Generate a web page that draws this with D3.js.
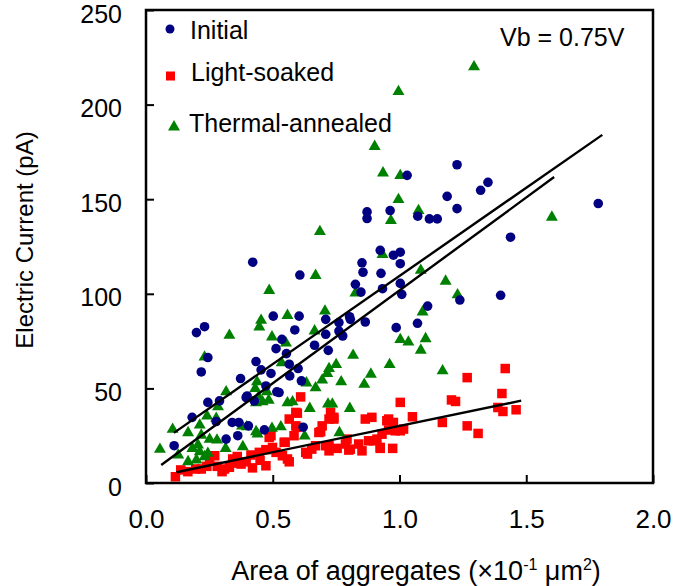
<!DOCTYPE html>
<html>
<head>
<meta charset="utf-8">
<script src="https://cdn.jsdelivr.net/npm/d3@7"></script>
<style>
  body { margin: 0; background: #fff; }
  text { font-family: Arial, "Liberation Sans", sans-serif; fill: #000; }
</style>
</head>
<body>
<div id="chart"></div>
<script>
// values: [area, current]
var initialPts = [
  [1.03,162.6],[0.872,143.3],[0.872,139.8],[0.963,144],[1.227,168.2],[1.349,158.9],[1.32,154.7],
  [1.188,151.5],[1.227,145],[1.072,141],[1.118,139.6],[1.149,139.6],[1.784,147.7],[1.438,129.9],
  [0.924,123],[0.976,120.4],[1.003,122],[1.003,115.9],[0.927,110.8],[1.003,105.5],[0.933,102.7],
  [1.009,99.7],[1.399,99.2],[1.238,96.7],[1.111,93.5],[1.071,84.4],[0.987,82.1],[0.852,116.4],
  [0.421,116.7],[0.856,111.4],[0.607,109.9],[0.826,105],[0.848,100.9],[0.199,79.5],[0.231,82.6],
  [0.244,66.3],[0.218,58.7],[0.502,88.2],[0.604,88.2],[0.587,80.9],[0.709,86.5],[0.709,78.6],
  [0.761,84.8],[0.803,87.9],[0.806,86.5],[0.865,85.1],[0.761,80.3],[0.776,77.7],[0.536,75.9],
  [0.513,71],[0.554,68.4],[0.665,72.8],[0.719,70.1],[0.434,64.2],[0.565,62.8],[0.454,59.8],
  [0.493,57.9],[0.6,60.5],[0.567,56.6],[0.613,54],[0.373,55.2],[0.473,51.3],[0.516,48.2],
  [0.399,46],[0.29,43.4],[0.244,42.6],[0.182,34.7],[0.277,32.5],[0.34,32],[0.366,32],[0.404,30.2],
  [0.362,25],[0.467,28.1],[0.316,23.2],[0.111,19.7],[0.395,45.2],[0.427,43.4],[0.525,47.8],[0.62,29.5]
];
var soakedPts = [
  [1.417,60.5],[1.267,55.7],[1.404,47.3],[1.205,43.9],[1.221,43.1],[1.003,42.6],[1.388,39.9],
  [1.408,37.8],[1.46,38.7],[1.051,35],[1.169,32],[1.267,30.2],[1.31,26.2],[1.003,27.6],[0.957,33.8],
  [0.976,32],[0.931,25.8],[0.957,28],[0.924,18.3],[0.973,18.3],[0.61,45.5],[0.597,36.9],[0.595,29.4],
  [0.565,33.8],[0.116,3.3],[0.137,6.9],[0.196,7.4],[0.218,7.4],[0.24,8.8],[0.251,12.7],[0.271,14.4],
  [0.281,8.8],[0.31,7.4],[0.329,8.3],[0.353,10.5],[0.375,10],[0.395,11.2],[0.342,12.7],[0.414,14.8],
  [0.447,16.2],[0.473,17.6],[0.473,9.1],[0.486,24.1],[0.499,18.8],[0.513,16.2],[0.538,14.4],
  [0.565,11.2],[0.549,21.5],[0.584,25],[0.63,16.2],[0.654,17.9],[0.669,19.7],[0.689,27.1],[0.695,30.2],
  [0.722,33.8],[0.741,33.8],[0.722,19.7],[0.722,17],[0.754,18.3],[0.793,23.2],[0.8,17.4],[0.839,20.6],
  [0.852,17],[0.865,33.8],[0.891,34.7],[0.878,22.3],[0.911,23.2],[0.95,32.9],[0.983,27.6],[1.016,28.5],
  [0.591,37.3],[0.728,37.3],[0.741,34.7],[0.682,26.7],[0.591,30.2],[0.545,21.5],[0.558,12.7],
  [0.493,25],[0.637,15.3],[0.709,19.7],[0.787,20.6],[0.806,17.9],[0.898,22.3],[0.924,18.8],
  [0.165,6],[0.3,6],[0.42,8],[0.45,12],[0.36,14]
];
var annealedPts = [
  [0.996,207.4],[0.902,178.4],[0.935,164.4],[1.003,163],[0.996,150.3],[0.966,139.2],[0.686,133.4],
  [1.294,220.5],[1.075,144.5],[1.601,141],[0.933,121.3],[1.084,112.9],[1.182,107.2],[1.229,100],
  [1.091,90.9],[1.003,76.3],[1.035,75],[1.103,76.8],[1.084,70.7],[1.17,59.8],[0.961,63.1],
  [0.669,110.2],[0.826,100.9],[0.486,102.3],[0.329,78.6],[0.231,67.1],[0.558,89.1],[0.706,91.4],
  [0.454,86.5],[0.447,83],[0.665,80.9],[0.497,77.7],[0.552,74.5],[0.817,68],[0.535,64],[0.722,61],
  [0.715,58.4],[0.75,63.1],[0.695,54.9],[0.77,54],[0.887,58],[0.861,52.7],[0.633,53.4],[0.438,54],
  [0.669,50.8],[0.477,48.7],[0.431,50.5],[0.444,46],[0.46,43.4],[0.484,44.3],[0.434,42.9],
  [0.316,48.7],[0.284,40.8],[0.558,42.9],[0.578,43.4],[0.646,39.9],[0.718,42.2],[0.735,42.2],
  [0.804,39.9],[0.241,35.9],[0.277,34.7],[0.212,31.1],[0.166,27.1],[0.105,28.9],[0.379,30.6],
  [0.397,30.2],[0.434,27.6],[0.44,26.4],[0.497,29.4],[0.532,30.2],[0.626,25.3],[0.763,27.1],
  [0.218,25.8],[0.251,23.6],[0.28,23.2],[0.055,18.3],[0.127,15.3],[0.183,18.8],[0.205,20.6],
  [0.314,18.8],[0.382,19.7],[0.212,17],[0.244,16.2],[0.231,14.4],[0.166,11.8],[0.199,12.7]
];
// fitted lines, end points
var fitInitial = [[0.11, 26.5], [1.80, 184]];
var fitAnnealed = [[0.06, 9.5], [1.61, 161.7]];
var fitSoaked = [[0.12, 5.7], [1.48, 43.5]];

var xTicks = [0, 0.5, 1.0, 1.5, 2.0];
var yTicks = [0, 50, 100, 150, 200, 250];
var legendNames = ["Initial", "Light-soaked", "Thermal-annealed"];

var width = 675;
var height = 586;
var pLeft = 146, pRight = 653, pTop = 10, pBottom = 483;

var svg = d3.select("#chart").append("svg")
  .attr("width", width)
  .attr("height", height);

var xS = d3.scaleLinear().domain([0, 2]).range([pLeft, pRight]);
var yS = d3.scaleLinear().domain([0, 250]).range([pBottom, pTop]);

var blue = "#000080", red = "#ff0000", green = "#008000";

var line = d3.line().x(function(d) { return xS(d[0]); }).y(function(d) { return yS(d[1]); });
var tri = d3.symbol().type(d3.symbolTriangle).size(62);

// points
svg.append("g").selectAll("rect").data(soakedPts).enter()
  .append("rect")
  .attr("x", function(d) { return xS(d[0]) - 4.75; })
  .attr("y", function(d) { return yS(d[1]) - 4.75; })
  .attr("width", 9.5)
  .attr("height", 9.5)
  .attr("fill", red);

svg.append("g").selectAll("path").data(annealedPts).enter()
  .append("path")
  .attr("d", tri)
  .attr("transform", function(d) { return "translate(" + xS(d[0]) + "," + (yS(d[1]) + 1) + ")"; })
  .attr("fill", green);

svg.append("g").selectAll("circle").data(initialPts).enter()
  .append("circle")
  .attr("cx", function(d) { return xS(d[0]); })
  .attr("cy", function(d) { return yS(d[1]); })
  .attr("r", 4.8)
  .attr("fill", blue);

// fit lines
[fitInitial, fitAnnealed, fitSoaked].forEach(function(f) {
  svg.append("path")
    .attr("d", line(f))
    .attr("fill", "none")
    .attr("stroke", "#000")
    .attr("stroke-width", 2.4);
});

// frame
svg.append("rect")
  .attr("x", pLeft)
  .attr("y", pTop)
  .attr("width", pRight - pLeft)
  .attr("height", pBottom - pTop)
  .attr("fill", "none")
  .attr("stroke", "#000")
  .attr("stroke-width", 2.5);

// axes, ticks pointing inward
var xAxis = d3.axisBottom(xS).tickValues(xTicks).tickSizeInner(-8).tickSizeOuter(0)
  .tickPadding(27).tickFormat(d3.format(".1f"));
var yAxis = d3.axisLeft(yS).tickValues(yTicks).tickSizeInner(-8).tickSizeOuter(0)
  .tickPadding(24);

var gx = svg.append("g").attr("transform", "translate(0," + pBottom + ")").call(xAxis);
var gy = svg.append("g").attr("transform", "translate(" + pLeft + ",0)").call(yAxis);
[gx, gy].forEach(function(g) {
  g.select(".domain").remove();
  g.selectAll("line").attr("stroke", "#000").attr("stroke-width", 2);
  g.selectAll("text").attr("font-size", 26).attr("font-family", "Arial, 'Liberation Sans', sans-serif");
});
gy.selectAll("text").attr("font-size", 25).attr("dy", "0.48em");

// axis titles
svg.append("text")
  .attr("transform", "translate(33,240) rotate(-90)")
  .attr("text-anchor", "middle")
  .attr("font-size", 24)
  .text("Electric Current (pA)");

var xt = svg.append("text")
  .attr("x", 416)
  .attr("y", 580)
  .attr("text-anchor", "middle")
  .attr("font-size", 27);
xt.append("tspan").text("Area of aggregates (\u00d710");
xt.append("tspan").attr("dy", -10).attr("font-size", 16).text("-1");
xt.append("tspan").attr("dy", 10).text(" \u03bcm");
xt.append("tspan").attr("dy", -10).attr("font-size", 16).text("2");
xt.append("tspan").attr("dy", 10).text(")");

// legend
var lg = svg.append("g");
lg.append("circle").attr("cx", 170).attr("cy", 29).attr("r", 4.5).attr("fill", blue);
lg.append("rect").attr("x", 166).attr("y", 71.5).attr("width", 9).attr("height", 9).attr("fill", red);
lg.append("path").attr("d", tri).attr("transform", "translate(174,127)").attr("fill", green);
var legendPos = [[190, 39], [191, 81], [189, 132]];
legendNames.forEach(function(n, i) {
  lg.append("text")
    .attr("x", legendPos[i][0])
    .attr("y", legendPos[i][1])
    .attr("font-size", 25)
    .text(n);
});

svg.append("text")
  .attr("x", 500)
  .attr("y", 46)
  .attr("font-size", 25)
  .text("Vb = 0.75V");
</script>
</body>
</html>
